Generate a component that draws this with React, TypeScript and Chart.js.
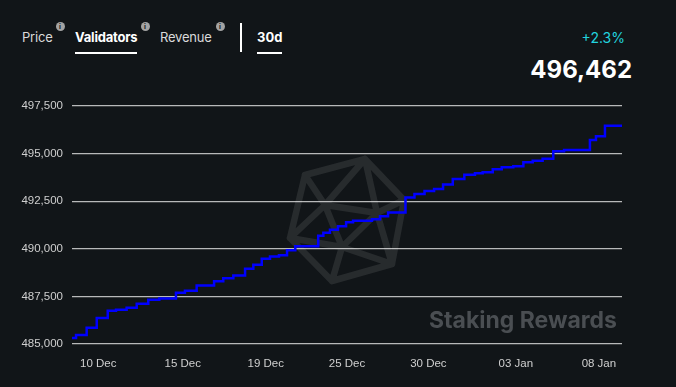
import React, { useEffect, useRef } from "react";
import { Chart, registerables } from "chart.js";

Chart.register(...registerables);

// ---- data ----
const stepDays = [
  0, 0.22, 0.8, 1.35, 1.95, 2.4, 2.98, 3.53, 4.16, 4.76, 5.67, 6.16, 6.8, 7.75, 8.25, 8.8, 9.44, 9.89,
  10.35, 10.8, 11.29, 11.73, 12.18, 13.43, 13.71, 14.07, 14.51, 14.95, 15.33, 16.36, 16.8, 17.24, 18.19,
  18.68, 19.23, 19.75, 20.24, 20.77, 21.4, 21.98, 22.4, 22.95, 23.44, 24.07, 24.62, 25.13, 25.67, 26.25,
  26.84, 28.25, 28.58, 29.07,
];
const stepValues = [
  485315, 485472, 485855, 486364, 486747, 486800, 486904, 487114, 487324, 487392, 487691, 487796, 488074,
  488294, 488451, 488598, 488950, 489159, 489474, 489595, 489658, 489920, 490130, 490680, 490837, 490995,
  491178, 491388, 491467, 491546, 491703, 491913, 492700, 492883, 493040, 493145, 493381, 493670, 493895,
  493969, 494021, 494179, 494284, 494336, 494546, 494630, 494735, 495123, 495191, 495716, 495910, 496462,
];
const endDay = 30;
const tickDays = [1.43, 6.04, 10.57, 15.0, 19.44, 24.21, 28.74];
const tickLabels = ["10 Dec", "15 Dec", "19 Dec", "25 Dec", "30 Dec", "03 Jan", "08 Jan"];
const yMin = 485000;
const yMax = 497500;
const yStep = 2500;
const tabs = ["Price", "Validators", "Revenue"];
const activeTab = "Validators";
const period = "30d";
const changeLabel = "+2.3%";
const currentValue = 496462;
const watermark = "Staking Rewards";

const BG = "#111518";

const logoPlugin = {
  id: "logoWatermark",
  beforeDraw(chart: any) {
    const { ctx, chartArea } = chart;
    const cx = (chartArea.left + chartArea.right) / 2;
    const cy = (chartArea.top + chartArea.bottom) / 2;
    const P: Record<string, [number, number]> = {
      A: [18, -66], B: [-42, -50], C: [-57, 13], D: [-15, 56], E: [45, 39], F: [57, -25],
      G: [-22, -20], J: [30, -12], H: [-5, 22],
    };
    const edges = [
      "AF", "FE", "ED", "DC", "CB", "BA", "GJ", "JH", "HG", "AG", "AJ", "BG", "CG", "CH", "DH", "EH", "EJ", "FJ",
    ];
    ctx.save();
    ctx.strokeStyle = "rgba(255,255,255,0.095)";
    ctx.lineWidth = 6.5;
    ctx.lineCap = "round";
    ctx.lineJoin = "round";
    ctx.beginPath();
    for (const e of edges) {
      const a = P[e[0]], b = P[e[1]];
      ctx.moveTo(cx + a[0], cy + a[1]);
      ctx.lineTo(cx + b[0], cy + b[1]);
    }
    ctx.stroke();
    ctx.font = "bold 23px Inter";
    ctx.fillStyle = "#4a4e52";
    ctx.textAlign = "right";
    ctx.textBaseline = "alphabetic";
    ctx.fillText(watermark, chartArea.right - 5, chartArea.bottom - 16);
    ctx.restore();
  },
};

function InfoIcon({ x }: { x: number }) {
  return (
    <div
      style={{
        position: "absolute",
        left: x - 4.5,
        top: 21.5,
        width: 9,
        height: 9,
        borderRadius: "50%",
        background: "#a3a3a3",
        color: BG,
        fontSize: 7,
        fontWeight: 700,
        lineHeight: "9px",
        textAlign: "center",
        fontFamily: "Inter, sans-serif",
      }}
    >
      i
    </div>
  );
}

export default function App() {
  const canvasRef = useRef<HTMLCanvasElement | null>(null);

  useEffect(() => {
    const points = stepDays.map((d, i) => ({ x: d, y: stepValues[i] }));
    points.push({ x: endDay, y: stepValues[stepValues.length - 1] });
    const chart = new Chart(canvasRef.current as HTMLCanvasElement, {
      type: "line",
      data: {
        datasets: [
          {
            data: points,
            borderColor: "#0000ff",
            borderWidth: 2.5,
            pointRadius: 0,
            stepped: true,
            fill: false,
          },
        ],
      },
      plugins: [logoPlugin],
      options: {
        animation: false,
        responsive: false,
        devicePixelRatio: 1,
        layout: { padding: { top: 106, right: 54, bottom: 0, left: 0 } },
        plugins: { legend: { display: false }, tooltip: { enabled: false } },
        scales: {
          x: {
            type: "linear",
            min: 0,
            max: endDay,
            grid: { display: false, drawTicks: false },
            border: { display: false },
            afterBuildTicks: (scale: any) => {
              scale.ticks = tickDays.map((v) => ({ value: v }));
            },
            afterFit: (scale: any) => {
              scale.height = 43;
            },
            ticks: {
              autoSkip: false,
              maxRotation: 0,
              padding: 13,
              color: "#cfcfcf",
              font: { family: "'Liberation Sans', Arial, sans-serif", size: 11.5 },
              callback: (_v: any, i: number) => tickLabels[i],
            },
          },
          y: {
            min: yMin,
            max: yMax,
            grid: { color: "rgba(255,255,255,0.7)", lineWidth: 1.2, drawTicks: false },
            border: { display: false },
            afterFit: (scale: any) => {
              scale.width = 72;
            },
            ticks: {
              stepSize: yStep,
              padding: 9,
              color: "#cfcfcf",
              font: { family: "'Liberation Sans', Arial, sans-serif", size: 11.5 },
              callback: (v: any) => Number(v).toLocaleString("en-US"),
            },
          },
        },
      },
    } as any);
    return () => chart.destroy();
  }, []);

  const tabLefts = [22, 75, 160];
  const iconXs = [60, 145, 220];

  return (
    <div
      style={{
        position: "fixed",
        left: 0,
        top: 0,
        width: 676,
        height: 387,
        background: BG,
        overflow: "hidden",
        fontFamily: "Inter, sans-serif",
      }}
    >
      {tabs.map((t, i) => (
        <div
          key={t}
          style={{
            position: "absolute",
            left: tabLefts[i],
            top: 28,
            height: 18,
            lineHeight: "18px",
            fontSize: 13,
            fontWeight: t === activeTab ? 700 : 400,
            color: t === activeTab ? "#ffffff" : "#dadada",
            letterSpacing: -0.2,
            whiteSpace: "nowrap",
          }}
        >
          {t}
          {t === activeTab && (
            <div style={{ position: "absolute", left: 0, right: 0, top: 24, height: 2, background: "#fff" }} />
          )}
        </div>
      ))}
      {iconXs.map((x) => (
        <InfoIcon key={x} x={x} />
      ))}
      <div style={{ position: "absolute", left: 240, top: 23, width: 2, height: 29, background: "#fff" }} />
      <div
        style={{
          position: "absolute",
          left: 257,
          top: 28,
          height: 18,
          lineHeight: "18px",
          fontSize: 13,
          fontWeight: 700,
          color: "#fff",
        }}
      >
        {period}
        <div style={{ position: "absolute", left: 0, right: 0, top: 24, height: 2, background: "#fff" }} />
      </div>
      <div
        style={{
          position: "absolute",
          right: 676 - 625,
          top: 29,
          lineHeight: "18px",
          fontSize: 14,
          color: "#22d3df",
        }}
      >
        {changeLabel}
      </div>
      <div
        style={{
          position: "absolute",
          right: 676 - 632,
          top: 56,
          lineHeight: "28px",
          fontSize: 24,
          fontWeight: 700,
          color: "#fff",
        }}
      >
        {currentValue.toLocaleString("en-US")}
      </div>
      <canvas
        ref={canvasRef}
        width={676}
        height={387}
        style={{ position: "absolute", left: 0, top: 0, width: 676, height: 387 }}
      />
    </div>
  );
}
